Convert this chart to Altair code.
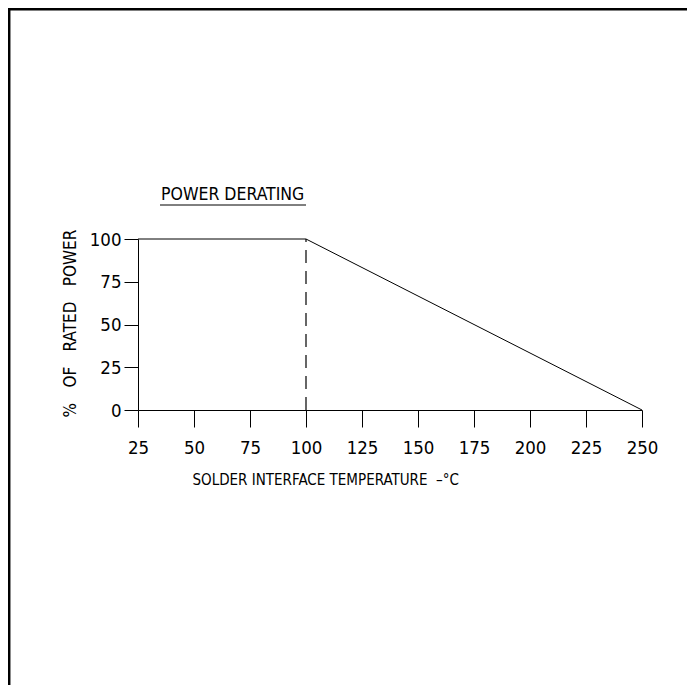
import altair as alt
import pandas as pd

# Data
temps = [25, 100, 250]
power = [100, 100, 0]
knee_temp = [100]
knee_lo = [0]
knee_hi = [100]
x_ticks = [25, 50, 75, 100, 125, 150, 175, 200, 225, 250]
y_ticks = [0, 25, 50, 75, 100]

FONT = "Liberation Sans Narrow, DejaVu Sans Condensed, sans-serif"
W, H = 504, 171
PL, PT, PR, PB = 130, 231, 45, 275

curve = pd.DataFrame({"t": temps, "p": power})
knee = pd.DataFrame({"t": knee_temp, "lo": knee_lo, "hi": knee_hi})
one = pd.DataFrame({"a": [0]})

xs = alt.Scale(domain=[25, 250], nice=False, zero=False)
ys = alt.Scale(domain=[0, 100], nice=False)

SP = "\u2003"

line = alt.Chart(curve).mark_line(color="black", strokeWidth=1).encode(
    x=alt.X("t:Q", scale=xs, axis=alt.Axis(
        values=x_ticks, title="SOLDER INTERFACE TEMPERATURE\u00a0\u00a0–°C",
        titleX=54, titleY=69, titleAlign="left", titleBaseline="middle",
        titleAnchor="start",
        tickSize=17, labelPadding=11, labelFontSize=18.5, titleFontSize=15,
        labelFont=FONT, titleFont=FONT, titleFontWeight="normal",
        domainColor="black", tickColor="black", labelColor="black", titleColor="black",
        grid=False, labelFlush=False)),
    y=alt.Y("p:Q", scale=ys, axis=alt.Axis(
        values=y_ticks, title=f"%{SP}OF{SP}RATED{SP}POWER",
        titleAngle=270, titleX=-68, titleY=84, titleAlign="center", titleBaseline="middle",
        tickSize=14, labelPadding=3, labelFontSize=18.5, titleFontSize=17,
        labelFont=FONT, titleFont=FONT, titleFontWeight="normal",
        domainColor="black", tickColor="black", labelColor="black", titleColor="black",
        grid=False, labelFlush=False)),
)

dashed = alt.Chart(knee).mark_rule(color="black", strokeWidth=1.2, strokeDash=[13, 8]).encode(
    x=alt.X("t:Q", scale=xs),
    y=alt.Y("lo:Q", scale=ys),
    y2="hi:Q",
)

title = alt.Chart(one).mark_text(
    text="POWER DERATING", align="left", baseline="middle",
    font=FONT, fontSize=17.5, color="black"
).encode(x=alt.value(23), y=alt.value(-44))

underline = alt.Chart(one).mark_rule(color="black", strokeWidth=1).encode(
    x=alt.value(22), x2=alt.value(168), y=alt.value(-34)
)

border_top = alt.Chart(one).mark_rule(color="black", strokeWidth=2.5).encode(
    x=alt.value(-PL), x2=alt.value(W + PR), y=alt.value(-PT + 1.2)
)
border_left = alt.Chart(one).mark_rule(color="black", strokeWidth=2.5).encode(
    x=alt.value(-PL + 1.2), y=alt.value(-PT), y2=alt.value(H + PB)
)

chart = alt.layer(line, dashed, title, underline, border_top, border_left).properties(
    width=W, height=H,
    autosize=alt.AutoSizeParams(type="none"),
    padding={"left": PL, "top": PT, "right": PR, "bottom": PB},
).configure(
    background="white",
    view=alt.ViewConfig(strokeWidth=0, stroke="transparent"),
)

chart.save("out.html", embed_options={"renderer": "svg", "actions": False})
